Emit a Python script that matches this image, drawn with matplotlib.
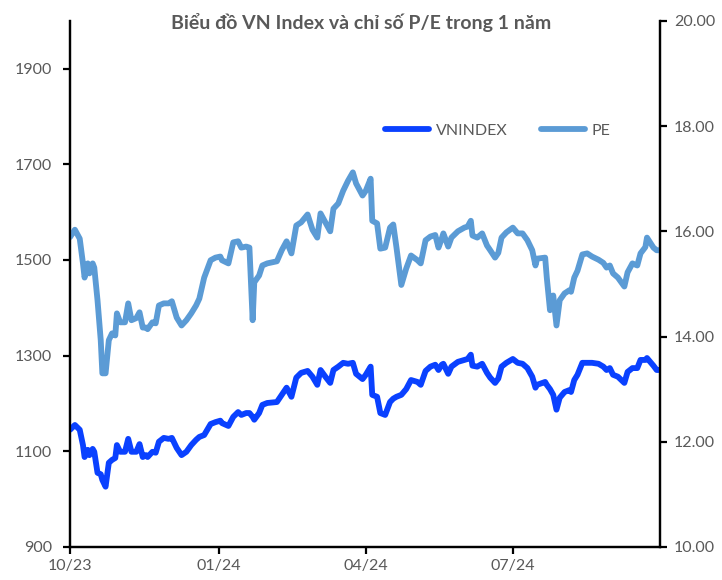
import matplotlib
matplotlib.use("Agg")
import matplotlib.pyplot as plt
import pandas as pd

plt.rcParams["font.family"] = ["Lato", "DejaVu Sans"]

# data
dates = [
    "2023-10-01", "2023-10-04", "2023-10-07", "2023-10-09", "2023-10-10", "2023-10-12",
    "2023-10-13", "2023-10-15", "2023-10-16", "2023-10-18", "2023-10-20", "2023-10-21",
    "2023-10-23", "2023-10-25", "2023-10-27", "2023-10-29", "2023-10-30", "2023-11-01",
    "2023-11-04", "2023-11-06", "2023-11-08", "2023-11-11", "2023-11-13", "2023-11-15",
    "2023-11-17", "2023-11-18", "2023-11-21", "2023-11-23", "2023-11-25", "2023-11-28",
    "2023-12-01", "2023-12-03", "2023-12-06", "2023-12-09", "2023-12-12", "2023-12-15",
    "2023-12-18", "2023-12-20", "2023-12-23", "2023-12-27", "2023-12-30", "2024-01-02",
    "2024-01-03", "2024-01-07", "2024-01-10", "2024-01-13", "2024-01-15", "2024-01-18",
    "2024-01-20", "2024-01-22", "2024-01-23", "2024-01-26", "2024-01-28", "2024-01-31",
    "2024-02-06", "2024-02-09", "2024-02-12", "2024-02-15", "2024-02-18", "2024-02-21",
    "2024-02-25", "2024-02-28", "2024-03-02", "2024-03-04", "2024-03-07", "2024-03-10",
    "2024-03-12", "2024-03-15", "2024-03-18", "2024-03-21", "2024-03-24", "2024-03-26",
    "2024-03-30", "2024-04-01", "2024-04-04", "2024-04-05", "2024-04-08", "2024-04-10",
    "2024-04-13", "2024-04-16", "2024-04-18", "2024-04-20", "2024-04-23", "2024-04-26",
    "2024-04-29", "2024-05-03", "2024-05-05", "2024-05-08", "2024-05-11", "2024-05-14",
    "2024-05-16", "2024-05-18", "2024-05-19", "2024-05-22", "2024-05-24", "2024-05-28",
    "2024-06-01", "2024-06-03", "2024-06-05", "2024-06-06", "2024-06-09", "2024-06-12",
    "2024-06-15", "2024-06-17", "2024-06-20", "2024-06-22", "2024-06-24", "2024-06-27",
    "2024-07-01", "2024-07-04", "2024-07-07", "2024-07-10", "2024-07-13", "2024-07-15",
    "2024-07-16", "2024-07-21", "2024-07-22", "2024-07-24", "2024-07-26", "2024-07-28",
    "2024-07-30", "2024-08-02", "2024-08-05", "2024-08-06", "2024-08-08", "2024-08-10",
    "2024-08-13", "2024-08-16", "2024-08-19", "2024-08-23", "2024-08-26", "2024-08-28",
    "2024-08-30", "2024-09-01", "2024-09-04", "2024-09-08", "2024-09-10", "2024-09-13",
    "2024-09-16", "2024-09-18", "2024-09-21", "2024-09-22", "2024-09-26", "2024-09-28",
    "2024-09-30",
]

vnindex = [
    1145, 1155, 1145, 1113, 1088, 1103, 1092, 1105, 1099, 1055, 1052, 1040,
    1026, 1076, 1082, 1086, 1113, 1099, 1099, 1126, 1099, 1099, 1115, 1088,
    1092, 1088, 1099, 1097, 1120, 1128, 1126, 1128, 1107, 1092, 1099, 1113,
    1124, 1130, 1134, 1157, 1161, 1164, 1159, 1153, 1172, 1182, 1176, 1180,
    1180, 1172, 1166, 1180, 1197, 1201, 1203, 1218, 1233, 1214, 1254, 1264,
    1268, 1256, 1239, 1270, 1256, 1243, 1270, 1277, 1285, 1283, 1285, 1262,
    1251, 1260, 1277, 1218, 1214, 1180, 1176, 1203, 1210, 1214, 1218, 1230,
    1249, 1245, 1239, 1268, 1277, 1281, 1270, 1281, 1283, 1262, 1277, 1287,
    1291, 1293, 1302, 1279, 1277, 1283, 1264, 1254, 1243, 1252, 1277, 1285,
    1293, 1285, 1283, 1274, 1256, 1233, 1239, 1245, 1239, 1230, 1218, 1187,
    1212, 1224, 1228, 1224, 1249, 1260, 1285, 1285, 1285, 1283, 1277, 1270,
    1274, 1260, 1256, 1243, 1266, 1274, 1274, 1291, 1291, 1295, 1279, 1270,
    1270,
]

pe = [
    15.89, 16.03, 15.86, 15.39, 15.12, 15.39, 15.20, 15.39, 15.31, 14.69, 13.93, 13.30,
    13.30, 13.93, 14.06, 14.02, 14.44, 14.27, 14.27, 14.63, 14.31, 14.35, 14.46, 14.17,
    14.17, 14.14, 14.27, 14.25, 14.59, 14.63, 14.63, 14.67, 14.36, 14.21, 14.31, 14.44,
    14.59, 14.72, 15.12, 15.45, 15.50, 15.52, 15.45, 15.39, 15.79, 15.81, 15.69, 15.71,
    15.69, 14.31, 15.03, 15.16, 15.35, 15.39, 15.43, 15.64, 15.81, 15.58, 16.11, 16.17,
    16.32, 16.03, 15.88, 16.34, 16.17, 16.00, 16.43, 16.53, 16.77, 16.96, 17.12, 16.91,
    16.68, 16.77, 17.00, 16.20, 16.15, 15.67, 15.69, 16.07, 16.13, 15.69, 14.98, 15.29,
    15.54, 15.45, 15.39, 15.83, 15.90, 15.93, 15.69, 15.86, 15.96, 15.71, 15.88, 16.00,
    16.07, 16.09, 16.20, 15.92, 15.88, 15.96, 15.73, 15.64, 15.50, 15.59, 15.88, 15.98,
    16.07, 15.96, 15.96, 15.83, 15.64, 15.35, 15.48, 15.50, 15.12, 14.50, 14.78, 14.21,
    14.69, 14.82, 14.88, 14.85, 15.12, 15.25, 15.56, 15.58, 15.52, 15.46, 15.40, 15.31,
    15.35, 15.20, 15.12, 14.95, 15.22, 15.39, 15.35, 15.58, 15.70, 15.88, 15.69, 15.64,
    15.64,
]

tick_dates = ["2023-10-01", "2024-01-01", "2024-04-01", "2024-07-01"]
tick_labels = ["10/23", "01/24", "04/24", "07/24"]
left_ticks = [900, 1100, 1300, 1500, 1700, 1900]
right_ticks = [10, 12, 14, 16, 18, 20]

title = "Biểu đồ VN Index và chỉ số P/E trong 1 năm"

x = pd.to_datetime(dates)
grey = "#595959"

fig = plt.figure(figsize=(7.22, 5.8), dpi=100)
ax = fig.add_axes([0.097, 0.057, 0.817, 0.907])
ax2 = ax.twinx()

line1, = ax.plot(x, vnindex, color="#0a41ff", lw=4.2, solid_capstyle="round",
                 solid_joinstyle="round", zorder=3)
line2, = ax2.plot(x, pe, color="#5b9bd5", lw=4.2, solid_capstyle="round",
                  solid_joinstyle="round", zorder=2)

ax.set_xlim(pd.Timestamp("2023-10-01"), pd.Timestamp("2024-09-30"))
ax.set_ylim(900, 2000)
ax2.set_ylim(10, 20)

ax.set_yticks(left_ticks)
ax2.set_yticks(right_ticks)
ax2.set_yticklabels([f"{v:.2f}" for v in right_ticks])
ax.set_xticks(pd.to_datetime(tick_dates))
ax.set_xticklabels(tick_labels)

for a in (ax, ax2):
    a.spines["top"].set_visible(False)
    for s in ("left", "right", "bottom"):
        a.spines[s].set_linewidth(1.6)
        a.spines[s].set_color("black")
    a.tick_params(labelcolor=grey, color="black", labelsize=11.5, width=1.6,
                  length=5, direction="out")
ax.tick_params(axis="y", pad=8)
ax2.tick_params(axis="y", pad=5)
ax.tick_params(axis="x", pad=4)

leg = ax.legend([line1, line2], ["VNINDEX", "PE"], loc="center", ncol=2,
                bbox_to_anchor=(0.725, 0.791), frameon=False, fontsize=11.5,
                handlelength=2.75, columnspacing=2.1, handletextpad=0.4)
for t in leg.get_texts():
    t.set_color(grey)

fig.text(0.5, 0.962, title, ha="center", va="center", fontsize=14,
         fontweight="bold", color=grey)

fig.savefig("out.png", dpi=100)
